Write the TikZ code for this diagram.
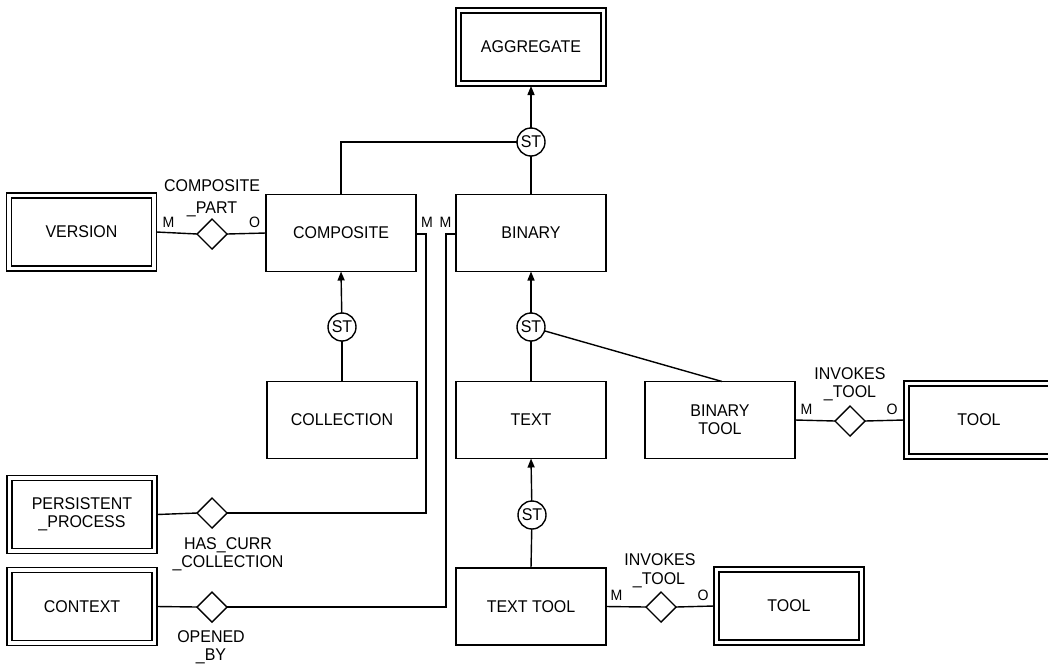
\documentclass[tikz,border=0pt]{standalone}
\usepackage{fontspec}
\setmainfont{Liberation Sans}[FakeStretch=0.94]
\usetikzlibrary{arrows.meta,shapes.geometric}

\begin{document}
\begin{tikzpicture}[x=1pt,y=-1pt,line width=1.4pt,
  every node/.style={inner sep=0pt,outer sep=0pt,font=\fontsize{17}{18}\selectfont},
  entity/.style={draw,rectangle,minimum width=150pt,minimum height=77pt,align=center},
  weakentity/.style={entity,minimum height=78pt,
    path picture={\draw[line width=1.4pt]
      ([shift={(5pt,-5pt)}]path picture bounding box.north west) rectangle
      ([shift={(-5pt,5pt)}]path picture bounding box.south east);}},
  relship/.style={draw,diamond,minimum width=30pt,minimum height=30pt,fill=white},
  subtype/.style={draw,circle,minimum size=28pt,fill=white},
  card/.style={anchor=base,font=\fontsize{15}{16}\selectfont},
  rolename/.style={anchor=base},
  isa/.style={-{Triangle[width=7pt,length=9pt]}}
]
\clip (0,0) rectangle (1048,665);

% entities
\node[weakentity] (agg)   at (531,47)    {AGGREGATE};
\node[weakentity] (ver)   at (81.5,232)  {VERSION};
\node[entity]     (comp)  at (341,233)   {COMPOSITE};
\node[entity]     (bin)   at (531,233)   {BINARY};
\node[entity]     (coll)  at (342,420)   {COLLECTION};
\node[entity]     (text)  at (531,420)   {TEXT};
\node[entity]     (btool) at (720,420)   {BINARY\\TOOL};
\node[weakentity] (toolA) at (979,420)   {TOOL};
\node[weakentity] (pproc) at (82,514.5)  {PERSISTENT\\\_PROCESS};
\node[weakentity] (ctx)   at (82,606.5)  {CONTEXT};
\node[entity]     (ttool) at (531,606.5) {TEXT TOOL};
\node[weakentity] (toolB) at (789,606)   {TOOL};

% subtype circles
\node[subtype] (st1) at (531,142) {ST};
\node[subtype] (st2) at (342,327) {ST};
\node[subtype] (st3) at (531,327) {ST};
\node[subtype] (st4) at (532,515) {ST};

% relationship diamonds
\node[relship] (d1) at (212,234) {};
\node[relship] (d2) at (212,513) {};
\node[relship] (d3) at (212,607) {};
\node[relship] (d4) at (850,421) {};
\node[relship] (d5) at (661,607) {};

% bends of the long connectors
\coordinate (c1) at (426,513);
\coordinate (c2) at (446,607);

% subtype links
\draw[isa] (st1) -- (agg.south);
\draw (bin.north) -- (st1);
\draw (comp.north) |- (st1.west);
\draw[isa] (st2) -- (comp.south);
\draw (coll.north) -- (st2);
\draw[isa] (st3) -- (bin.south);
\draw (text.north) -- (st3);
\draw (st3) -- ([xshift=2pt]btool.north);
\draw[isa] (st4) -- (text.south);
\draw (ttool.north) -- (st4);

% relationships
\draw (ver.east) -- (d1.west);
\draw (d1.east) -- (comp.west);
\draw ([yshift=-1pt]comp.east) -| (c1) -- (d2.east);
\draw (d2.west) -- (pproc.east);
\draw ([yshift=-1pt]bin.west) -| (c2) -- (d3.east);
\draw (d3.west) -- (ctx.east);
\draw (btool.east) -- (d4.west);
\draw (d4.east) -- (toolA.west);
\draw (ttool.east) -- (d5.west);
\draw (d5.east) -- (toolB.west);

% relationship names
\node[rolename] (n1a) at (212,191) {COMPOSITE};
\node[rolename] (n1b) at (212,213) {\_PART};
\node[rolename] (n2a) at (228,549) {HAS\_CURR};
\node[rolename] (n2b) at (228,567) {\_COLLECTION};
\node[rolename] (n3a) at (211,642) {OPENED};
\node[rolename] (n3b) at (211,660) {\_BY};
\node[rolename] (n4a) at (850,379) {INVOKES};
\node[rolename] (n4b) at (850,397) {\_TOOL};
\node[rolename] (n5a) at (660,565) {INVOKES};
\node[rolename] (n5b) at (659,584) {\_TOOL};

% cardinalities
\node[card] (m1) at (168.5,227) {M};
\node[card] (o1) at (254.5,227) {O};
\node[card] (m2) at (427,227)   {M};
\node[card] (m3) at (445.5,227) {M};
\node[card] (m4) at (806.5,414) {M};
\node[card] (o4) at (892,414)   {O};
\node[card] (m5) at (616.5,600) {M};
\node[card] (o5) at (703,600)   {O};
\end{tikzpicture}
\end{document}
